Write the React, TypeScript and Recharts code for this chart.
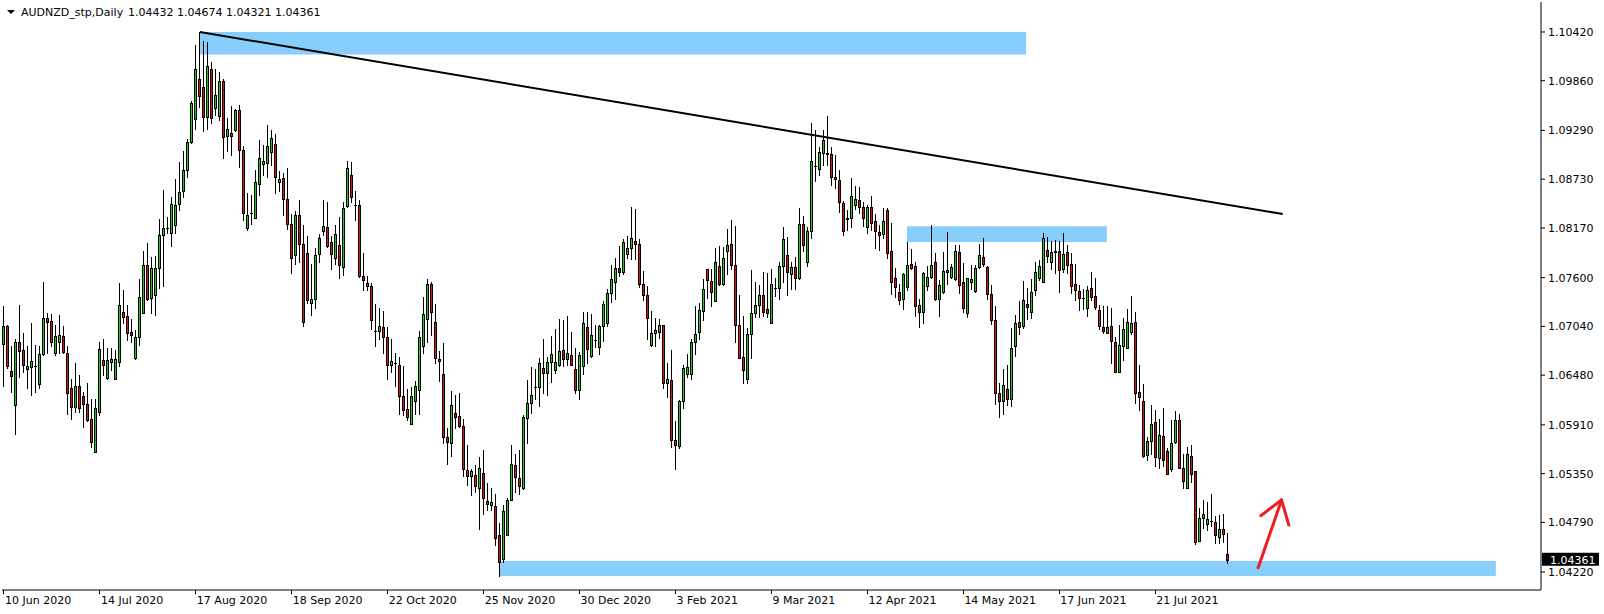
import React from "react";
import { Bar, ComposedChart, ReferenceArea, ReferenceLine, XAxis, YAxis } from "recharts";

// AUDNZD daily candles (index 0 = 10 Jun 2020)
const OPEN = [
  1.0684, 1.0704, 1.0653, 1.0614, 1.0686, 1.0677, 1.0655, 1.0657, 1.0659, 1.0638,
  1.0672, 1.0714, 1.0710, 1.0673, 1.0686, 1.0693, 1.0673, 1.0633, 1.0612, 1.0636,
  1.0624, 1.0615, 1.0598, 1.0560, 1.0606, 1.0665, 1.0645, 1.0663, 1.0644, 1.0663,
  1.0720, 1.0716, 1.0698, 1.0668, 1.0692, 1.0719, 1.0775, 1.0737, 1.0740, 1.0771,
  1.0809, 1.0817, 1.0811, 1.0820, 1.0844, 1.0859, 1.0884, 1.0916, 1.0942, 1.0988,
  1.0979, 1.0944, 1.0999, 1.0955, 1.0945, 1.0986, 1.0922, 1.0926, 1.0929, 1.0952,
  1.0906, 1.0817, 1.0834, 1.0829, 1.0867, 1.0890, 1.0892, 1.0904, 1.0913, 1.0870,
  1.0874, 1.0850, 1.0821, 1.0786, 1.0832, 1.0799, 1.0788, 1.0731, 1.0735, 1.0787,
  1.0814, 1.0818, 1.0801, 1.0782, 1.0798, 1.0772, 1.0842, 1.0878, 1.0843, 1.0843,
  1.0762, 1.0754, 1.0750, 1.0699, 1.0699, 1.0703, 1.0692, 1.0660, 1.0662, 1.0660,
  1.0624, 1.0609, 1.0592, 1.0618, 1.0631, 1.0682, 1.0712, 1.0753, 1.0709, 1.0667,
  1.0649, 1.0577, 1.0570, 1.0605, 1.0601, 1.0590, 1.0539, 1.0532, 1.0533, 1.0519,
  1.0536, 1.0504, 1.0499, 1.0498, 1.0464, 1.0437, 1.0464, 1.0505, 1.0545, 1.0530,
  1.0519, 1.0599, 1.0616, 1.0635, 1.0635, 1.0656, 1.0651, 1.0663, 1.0654, 1.0660,
  1.0677, 1.0667, 1.0671, 1.0655, 1.0631, 1.0659, 1.0703, 1.0670, 1.0688, 1.0680,
  1.0705, 1.0708, 1.0742, 1.0755, 1.0771, 1.0767, 1.0787, 1.0794, 1.0802, 1.0799,
  1.0753, 1.0740, 1.0683, 1.0696, 1.0698, 1.0706, 1.0639, 1.0643, 1.0574, 1.0567,
  1.0618, 1.0649, 1.0649, 1.0686, 1.0698, 1.0722, 1.0770, 1.0756, 1.0733, 1.0773,
  1.0753, 1.0790, 1.0799, 1.0774, 1.0706, 1.0669, 1.0644, 1.0695, 1.0719, 1.0729,
  1.0740, 1.0724, 1.0708, 1.0748, 1.0748, 1.0773, 1.0786, 1.0764, 1.0772, 1.0760,
  1.0821, 1.0778, 1.0813, 1.0888, 1.0885, 1.0903, 1.0903, 1.0902, 1.0876, 1.0872,
  1.0846, 1.0827, 1.0829, 1.0843, 1.0849, 1.0841, 1.0818, 1.0841, 1.0825, 1.0812,
  1.0810, 1.0838, 1.0791, 1.0760, 1.0743, 1.0735, 1.0749, 1.0776, 1.0773, 1.0728,
  1.0721, 1.0750, 1.0761, 1.0778, 1.0735, 1.0744, 1.0769, 1.0761, 1.0758, 1.0789,
  1.0755, 1.0719, 1.0755, 1.0745, 1.0772, 1.0784, 1.0772, 1.0741, 1.0711, 1.0628,
  1.0618, 1.0632, 1.0621, 1.0681, 1.0709, 1.0704, 1.0730, 1.0721, 1.0746, 1.0760,
  1.0755, 1.0792, 1.0778, 1.0791, 1.0791, 1.0770, 1.0789, 1.0776, 1.0753, 1.0745,
  1.0737, 1.0725, 1.0748, 1.0739, 1.0723, 1.0703, 1.0696, 1.0704, 1.0686, 1.0652,
  1.0682, 1.0679, 1.0698, 1.0709, 1.0629, 1.0618, 1.0556, 1.0572, 1.0594, 1.0553,
  1.0578, 1.0561, 1.0540, 1.0571, 1.0597, 1.0542, 1.0519, 1.0555, 1.0538, 1.0458,
  1.0484, 1.0477, 1.0481, 1.0480, 1.0462, 1.0471, 1.04432,
];

const HIGH = [
  1.0727, 1.0706, 1.0681, 1.0690, 1.0729, 1.0696, 1.0681, 1.0708, 1.0683, 1.0681,
  1.0755, 1.0719, 1.0718, 1.0706, 1.0717, 1.0704, 1.0681, 1.0644, 1.0662, 1.0648,
  1.0629, 1.0639, 1.0621, 1.0621, 1.0686, 1.0690, 1.0679, 1.0679, 1.0677, 1.0754,
  1.0746, 1.0729, 1.0713, 1.0700, 1.0758, 1.0790, 1.0800, 1.0784, 1.0785, 1.0827,
  1.0861, 1.0830, 1.0853, 1.0873, 1.0893, 1.0905, 1.0919, 1.0963, 1.1027, 1.1042,
  1.1032, 1.1031, 1.1008, 1.1000, 1.0996, 1.0988, 1.0943, 1.0957, 1.0954, 1.0958,
  1.0911, 1.0857, 1.0855, 1.0884, 1.0918, 1.0912, 1.0935, 1.0930, 1.0925, 1.0882,
  1.0880, 1.0886, 1.0833, 1.0837, 1.0849, 1.0820, 1.0808, 1.0776, 1.0794, 1.0810,
  1.0849, 1.0847, 1.0808, 1.0820, 1.0830, 1.0847, 1.0894, 1.0893, 1.0860, 1.0849,
  1.0788, 1.0762, 1.0754, 1.0730, 1.0725, 1.0722, 1.0703, 1.0690, 1.0673, 1.0669,
  1.0658, 1.0632, 1.0635, 1.0641, 1.0699, 1.0738, 1.0758, 1.0755, 1.0730, 1.0676,
  1.0685, 1.0587, 1.0630, 1.0625, 1.0627, 1.0598, 1.0568, 1.0540, 1.0545, 1.0554,
  1.0562, 1.0524, 1.0518, 1.0512, 1.0478, 1.0499, 1.0507, 1.0568, 1.0558, 1.0562,
  1.0602, 1.0642, 1.0657, 1.0655, 1.0668, 1.0690, 1.0669, 1.0693, 1.0701, 1.0713,
  1.0711, 1.0716, 1.0698, 1.0679, 1.0675, 1.0721, 1.0721, 1.0718, 1.0706, 1.0706,
  1.0733, 1.0747, 1.0775, 1.0782, 1.0796, 1.0804, 1.0808, 1.0841, 1.0839, 1.0804,
  1.0768, 1.0750, 1.0722, 1.0714, 1.0712, 1.0706, 1.0662, 1.0677, 1.0595, 1.0620,
  1.0660, 1.0672, 1.0690, 1.0727, 1.0731, 1.0758, 1.0770, 1.0770, 1.0794, 1.0796,
  1.0795, 1.0816, 1.0826, 1.0819, 1.0740, 1.0716, 1.0702, 1.0769, 1.0755, 1.0752,
  1.0766, 1.0765, 1.0770, 1.0760, 1.0778, 1.0818, 1.0807, 1.0778, 1.0784, 1.0840,
  1.0831, 1.0818, 1.0937, 1.0930, 1.0910, 1.0930, 1.0946, 1.0910, 1.0901, 1.0883,
  1.0848, 1.0838, 1.0874, 1.0865, 1.0864, 1.0847, 1.0843, 1.0854, 1.0833, 1.0820,
  1.0840, 1.0840, 1.0823, 1.0771, 1.0753, 1.0765, 1.0801, 1.0793, 1.0778, 1.0736,
  1.0766, 1.0773, 1.0820, 1.0788, 1.0757, 1.0789, 1.0812, 1.0776, 1.0797, 1.0797,
  1.0777, 1.0760, 1.0775, 1.0775, 1.0799, 1.0806, 1.0773, 1.0752, 1.0727, 1.0639,
  1.0655, 1.0660, 1.0702, 1.0717, 1.0733, 1.0756, 1.0748, 1.0758, 1.0778, 1.0780,
  1.0811, 1.0807, 1.0802, 1.0803, 1.0802, 1.0811, 1.0798, 1.0788, 1.0776, 1.0752,
  1.0747, 1.0750, 1.0766, 1.0759, 1.0729, 1.0727, 1.0727, 1.0725, 1.0692, 1.0706,
  1.0714, 1.0724, 1.0739, 1.0721, 1.0660, 1.0638, 1.0577, 1.0614, 1.0608, 1.0598,
  1.0610, 1.0564, 1.0597, 1.0607, 1.0603, 1.0557, 1.0565, 1.0568, 1.0538, 1.0495,
  1.0505, 1.0502, 1.0512, 1.0486, 1.0487, 1.0489, 1.04674,
];

const LOW = [
  1.0636, 1.0656, 1.0629, 1.0581, 1.0646, 1.0652, 1.0633, 1.0625, 1.0629, 1.0633,
  1.0671, 1.0673, 1.0681, 1.0671, 1.0673, 1.0673, 1.0604, 1.0598, 1.0606, 1.0606,
  1.0589, 1.0595, 1.0566, 1.0560, 1.0602, 1.0648, 1.0644, 1.0654, 1.0644, 1.0658,
  1.0708, 1.0688, 1.0686, 1.0667, 1.0683, 1.0719, 1.0734, 1.0719, 1.0717, 1.0748,
  1.0750, 1.0811, 1.0796, 1.0811, 1.0838, 1.0853, 1.0876, 1.0914, 1.0931, 1.0956,
  1.0928, 1.0931, 1.0937, 1.0947, 1.0941, 1.0897, 1.0905, 1.0901, 1.0928, 1.0887,
  1.0826, 1.0815, 1.0822, 1.0828, 1.0855, 1.0878, 1.0876, 1.0889, 1.0857, 1.0859,
  1.0832, 1.0816, 1.0765, 1.0776, 1.0778, 1.0704, 1.0731, 1.0717, 1.0725, 1.0778,
  1.0809, 1.0795, 1.0770, 1.0776, 1.0759, 1.0763, 1.0841, 1.0847, 1.0826, 1.0761,
  1.0746, 1.0746, 1.0701, 1.0681, 1.0690, 1.0674, 1.0644, 1.0652, 1.0636, 1.0604,
  1.0602, 1.0597, 1.0592, 1.0604, 1.0604, 1.0673, 1.0686, 1.0694, 1.0662, 1.0641,
  1.0570, 1.0546, 1.0555, 1.0587, 1.0589, 1.0532, 1.0522, 1.0510, 1.0514, 1.0471,
  1.0489, 1.0493, 1.0493, 1.0453, 1.0417, 1.0434, 1.0464, 1.0505, 1.0514, 1.0512,
  1.0517, 1.0570, 1.0605, 1.0621, 1.0613, 1.0627, 1.0625, 1.0640, 1.0651, 1.0659,
  1.0658, 1.0660, 1.0660, 1.0628, 1.0621, 1.0649, 1.0662, 1.0669, 1.0680, 1.0672,
  1.0687, 1.0704, 1.0732, 1.0735, 1.0762, 1.0764, 1.0783, 1.0781, 1.0781, 1.0749,
  1.0734, 1.0690, 1.0681, 1.0681, 1.0691, 1.0633, 1.0623, 1.0565, 1.0540, 1.0564,
  1.0610, 1.0646, 1.0644, 1.0672, 1.0690, 1.0711, 1.0737, 1.0727, 1.0733, 1.0751,
  1.0752, 1.0764, 1.0770, 1.0686, 1.0668, 1.0639, 1.0639, 1.0668, 1.0715, 1.0715,
  1.0716, 1.0715, 1.0708, 1.0739, 1.0736, 1.0755, 1.0740, 1.0747, 1.0747, 1.0758,
  1.0790, 1.0773, 1.0806, 1.0871, 1.0878, 1.0889, 1.0889, 1.0866, 1.0863, 1.0835,
  1.0809, 1.0815, 1.0818, 1.0839, 1.0834, 1.0819, 1.0811, 1.0815, 1.0794, 1.0792,
  1.0806, 1.0783, 1.0741, 1.0738, 1.0730, 1.0724, 1.0746, 1.0770, 1.0716, 1.0703,
  1.0708, 1.0746, 1.0760, 1.0734, 1.0716, 1.0742, 1.0753, 1.0759, 1.0757, 1.0742,
  1.0721, 1.0715, 1.0747, 1.0743, 1.0771, 1.0773, 1.0736, 1.0707, 1.0615, 1.0600,
  1.0603, 1.0614, 1.0613, 1.0670, 1.0695, 1.0702, 1.0713, 1.0714, 1.0740, 1.0757,
  1.0755, 1.0778, 1.0770, 1.0765, 1.0743, 1.0766, 1.0765, 1.0742, 1.0734, 1.0723,
  1.0724, 1.0716, 1.0734, 1.0724, 1.0701, 1.0696, 1.0696, 1.0662, 1.0652, 1.0652,
  1.0665, 1.0679, 1.0695, 1.0616, 1.0608, 1.0554, 1.0551, 1.0558, 1.0544, 1.0542,
  1.0544, 1.0534, 1.0538, 1.0570, 1.0542, 1.0518, 1.0519, 1.0525, 1.0454, 1.0458,
  1.0472, 1.0470, 1.0475, 1.0455, 1.0455, 1.0456, 1.04321,
];

const CLOSE = [
  1.0704, 1.0658, 1.0647, 1.0686, 1.0676, 1.0660, 1.0658, 1.0664, 1.0659, 1.0672,
  1.0714, 1.0709, 1.0686, 1.0693, 1.0694, 1.0675, 1.0627, 1.0611, 1.0636, 1.0610,
  1.0615, 1.0597, 1.0571, 1.0610, 1.0678, 1.0660, 1.0665, 1.0667, 1.0667, 1.0729,
  1.0715, 1.0696, 1.0694, 1.0692, 1.0738, 1.0775, 1.0736, 1.0771, 1.0771, 1.0809,
  1.0817, 1.0817, 1.0845, 1.0843, 1.0858, 1.0884, 1.0916, 1.0960, 1.0999, 1.0969,
  1.0944, 1.1003, 1.0943, 1.0970, 1.0986, 1.0921, 1.0931, 1.0923, 1.0952, 1.0906,
  1.0834, 1.0832, 1.0834, 1.0870, 1.0897, 1.0894, 1.0911, 1.0920, 1.0875, 1.0873,
  1.0850, 1.0821, 1.0782, 1.0832, 1.0799, 1.0709, 1.0734, 1.0735, 1.0786, 1.0805,
  1.0819, 1.0796, 1.0787, 1.0810, 1.0774, 1.0840, 1.0886, 1.0853, 1.0843, 1.0762,
  1.0757, 1.0750, 1.0711, 1.0699, 1.0705, 1.0692, 1.0660, 1.0664, 1.0662, 1.0624,
  1.0608, 1.0600, 1.0624, 1.0636, 1.0692, 1.0718, 1.0753, 1.0720, 1.0668, 1.0664,
  1.0577, 1.0571, 1.0614, 1.0600, 1.0590, 1.0540, 1.0532, 1.0538, 1.0521, 1.0542,
  1.0507, 1.0500, 1.0502, 1.0461, 1.0434, 1.0492, 1.0505, 1.0546, 1.0531, 1.0521,
  1.0600, 1.0616, 1.0625, 1.0635, 1.0662, 1.0650, 1.0663, 1.0672, 1.0663, 1.0676,
  1.0667, 1.0674, 1.0660, 1.0631, 1.0671, 1.0708, 1.0678, 1.0694, 1.0688, 1.0705,
  1.0730, 1.0742, 1.0758, 1.0771, 1.0767, 1.0801, 1.0794, 1.0805, 1.0799, 1.0753,
  1.0740, 1.0714, 1.0696, 1.0700, 1.0706, 1.0639, 1.0644, 1.0574, 1.0568, 1.0618,
  1.0656, 1.0657, 1.0686, 1.0695, 1.0723, 1.0747, 1.0757, 1.0743, 1.0778, 1.0753,
  1.0782, 1.0798, 1.0774, 1.0706, 1.0668, 1.0654, 1.0695, 1.0719, 1.0729, 1.0740,
  1.0721, 1.0719, 1.0753, 1.0748, 1.0773, 1.0804, 1.0767, 1.0772, 1.0759, 1.0822,
  1.0798, 1.0813, 1.0894, 1.0888, 1.0904, 1.0918, 1.0902, 1.0875, 1.0873, 1.0847,
  1.0814, 1.0828, 1.0854, 1.0850, 1.0841, 1.0829, 1.0841, 1.0823, 1.0814, 1.0809,
  1.0825, 1.0788, 1.0755, 1.0749, 1.0734, 1.0764, 1.0775, 1.0771, 1.0727, 1.0720,
  1.0765, 1.0761, 1.0775, 1.0735, 1.0751, 1.0768, 1.0766, 1.0772, 1.0791, 1.0752,
  1.0725, 1.0759, 1.0758, 1.0771, 1.0786, 1.0776, 1.0741, 1.0711, 1.0628, 1.0618,
  1.0637, 1.0621, 1.0679, 1.0708, 1.0703, 1.0734, 1.0726, 1.0743, 1.0767, 1.0773,
  1.0805, 1.0785, 1.0789, 1.0789, 1.0769, 1.0787, 1.0775, 1.0750, 1.0746, 1.0737,
  1.0737, 1.0746, 1.0738, 1.0726, 1.0705, 1.0699, 1.0703, 1.0687, 1.0652, 1.0683,
  1.0701, 1.0709, 1.0708, 1.0627, 1.0623, 1.0555, 1.0572, 1.0592, 1.0554, 1.0579,
  1.0551, 1.0535, 1.0570, 1.0597, 1.0542, 1.0526, 1.0558, 1.0535, 1.0457, 1.0484,
  1.0489, 1.0483, 1.0481, 1.0465, 1.0471, 1.0466, 1.04361,
];

const DATE_LABELS = [
  "10 Jun 2020", "14 Jul 2020", "17 Aug 2020", "18 Sep 2020", "22 Oct 2020", "25 Nov 2020",
  "30 Dec 2020", "3 Feb 2021", "9 Mar 2021", "12 Apr 2021", "14 May 2021", "17 Jun 2021", "21 Jul 2021",
];
const BARS_PER_LABEL = 24;
const PRICE_TICKS = [1.1042, 1.0986, 1.0929, 1.0873, 1.0817, 1.076, 1.0704, 1.0648, 1.0591, 1.0535, 1.0479, 1.0422];
const PRICE_DOMAIN = [1.04014, 1.10764];
const SLOTS = 385; // chart keeps empty space to the right of the last bar
const LAST_PRICE = 1.04361;
const TITLE = "AUDNZD_stp,Daily";
const TITLE_QUOTE = "1.04432 1.04674 1.04321 1.04361";

// drawn objects, in bar index / price
const TOP_ZONE = { x1: 49, x2: 255.7, y1: 1.1016, y2: 1.1042 };
const MID_ZONE = { x1: 225.9, x2: 275.9, y1: 1.0801, y2: 1.0819 };
const LOW_ZONE = { x1: 124, x2: 373.2, y1: 1.04175, y2: 1.04347 };
const TREND = [{ x: 49, y: 1.1042 }, { x: 319.9, y: 1.0833 }];
const ARROW_TAIL = { x: 313.75, y: 1.0427 };
const ARROW_TIP = { x: 319.6, y: 1.05047 };
const ARROW_LEFT = { x: 314.4, y: 1.04867 };
const ARROW_RIGHT = { x: 321.4, y: 1.0476 };

const FONT = "'DejaVu Sans', sans-serif";
const UP = "#1fc71f";
const DOWN = "#d41414";
const ZONE = "#87cefa";
const ARROW = "#ee1c24";

const bars = Array.from({ length: SLOTS }, (_, i) =>
  i < OPEN.length ? { i, o: OPEN[i], h: HIGH[i], l: LOW[i], c: CLOSE[i] } : { i }
);
const tickIdx = DATE_LABELS.map((_, k) => k * BARS_PER_LABEL);

function Candle(props: any) {
  const { x, y, width, height, payload } = props;
  if (payload == null || payload.h == null) return null;
  const top = Math.min(y, y + height);
  const bottom = Math.max(y, y + height);
  const span = payload.h - payload.l;
  const py = (v: number) => Math.round(span === 0 ? top : top + ((payload.h - v) / span) * (bottom - top));
  const col = Math.floor(x + width / 2);
  const yHi = py(payload.h);
  const yLo = py(payload.l);
  const yA = py(Math.max(payload.o, payload.c));
  const yB = py(Math.min(payload.o, payload.c));
  const fill = payload.c > payload.o ? UP : DOWN;
  return (
    <g shapeRendering="crispEdges">
      <line x1={col + 0.5} x2={col + 0.5} y1={yHi} y2={yLo + 1} stroke="#000" strokeWidth={1} />
      {yB - yA < 1 ? (
        <line x1={col - 1} x2={col + 2} y1={yA + 0.5} y2={yA + 0.5} stroke="#000" strokeWidth={1} />
      ) : (
        <rect x={col - 0.5} y={yA + 0.5} width={2} height={yB - yA} fill={fill} stroke="#000" strokeWidth={1} />
      )}
    </g>
  );
}

function DateTick(props: any) {
  const { x, y, payload } = props;
  const label = DATE_LABELS[payload.value / BARS_PER_LABEL];
  return (
    <g>
      <line x1={Math.floor(x) + 0.5} x2={Math.floor(x) + 0.5} y1={y} y2={y + 4} stroke="#000" />
      <text x={x + 1} y={y + 14} fill="#000" fontSize={11} fontFamily={FONT}>
        {label}
      </text>
    </g>
  );
}

function PriceTag(props: any) {
  const { viewBox } = props;
  const left = viewBox.x + viewBox.width + 1;
  return (
    <g>
      <rect x={left} y={viewBox.y - 7} width={57} height={13} fill="#000" />
      <text x={left + 8} y={viewBox.y + 4} fill="#fff" fontSize={11} fontFamily={FONT}>
        {LAST_PRICE.toFixed(5)}
      </text>
    </g>
  );
}

export default function App() {
  return (
    <div style={{ position: "absolute", left: 0, top: 0, width: 1604, height: 614, background: "#fff" }}>
      <ComposedChart width={1604} height={614} data={bars} margin={{ top: 2, right: 0, bottom: 0, left: 2 }}>
        <XAxis
          dataKey="i"
          type="category"
          ticks={tickIdx}
          interval={0}
          tick={<DateTick />}
          tickLine={false}
          tickSize={0}
          tickMargin={0}
          height={24}
          axisLine={{ stroke: "#000" }}
        />
        <XAxis xAxisId="top" dataKey="i" orientation="top" height={0} tick={false} tickLine={false} axisLine={{ stroke: "#000" }} />
        <XAxis xAxisId="n" dataKey="i" type="number" domain={[-0.5, SLOTS - 0.5]} allowDataOverflow hide />
        <YAxis
          orientation="right"
          type="number"
          domain={PRICE_DOMAIN}
          allowDataOverflow
          ticks={PRICE_TICKS}
          interval={0}
          width={63}
          tickSize={4}
          tickMargin={3}
          tickFormatter={(v: number) => v.toFixed(5)}
          tick={{ fill: "#000", fontSize: 11, fontFamily: FONT }}
          tickLine={{ stroke: "#000" }}
          axisLine={{ stroke: "#000" }}
        />
        <YAxis yAxisId="left" orientation="left" width={0} domain={PRICE_DOMAIN} tick={false} tickLine={false} axisLine={{ stroke: "#000" }} />

        <ReferenceArea xAxisId="n" {...TOP_ZONE} fill={ZONE} fillOpacity={1} stroke="none" />
        <ReferenceArea xAxisId="n" {...MID_ZONE} fill={ZONE} fillOpacity={1} stroke="none" />
        <ReferenceArea xAxisId="n" {...LOW_ZONE} fill={ZONE} fillOpacity={1} stroke="none" />

        <Bar dataKey={(d: any) => (d.h == null ? null : [d.l, d.h])} shape={<Candle />} isAnimationActive={false} />

        <ReferenceLine xAxisId="n" segment={TREND} stroke="#000" strokeWidth={2} />
        <ReferenceLine xAxisId="n" segment={[ARROW_TAIL, ARROW_TIP]} stroke={ARROW} strokeWidth={3} strokeLinecap="round" />
        <ReferenceLine xAxisId="n" segment={[ARROW_LEFT, ARROW_TIP]} stroke={ARROW} strokeWidth={3} strokeLinecap="round" />
        <ReferenceLine xAxisId="n" segment={[ARROW_RIGHT, ARROW_TIP]} stroke={ARROW} strokeWidth={3} strokeLinecap="round" />
        <ReferenceLine y={LAST_PRICE} stroke="none" label={<PriceTag />} />
      </ComposedChart>

      <div
        style={{
          position: "absolute", left: 7, top: 10, width: 0, height: 0,
          borderLeft: "4px solid transparent", borderRight: "4px solid transparent", borderTop: "4px solid #000",
        }}
      />
      <div style={{ position: "absolute", left: 21, top: 5, font: `11px/15px ${FONT}`, color: "#000" }}>{TITLE}</div>
      <div style={{ position: "absolute", left: 128, top: 5, font: `11px/15px ${FONT}`, color: "#000" }}>{TITLE_QUOTE}</div>
    </div>
  );
}
